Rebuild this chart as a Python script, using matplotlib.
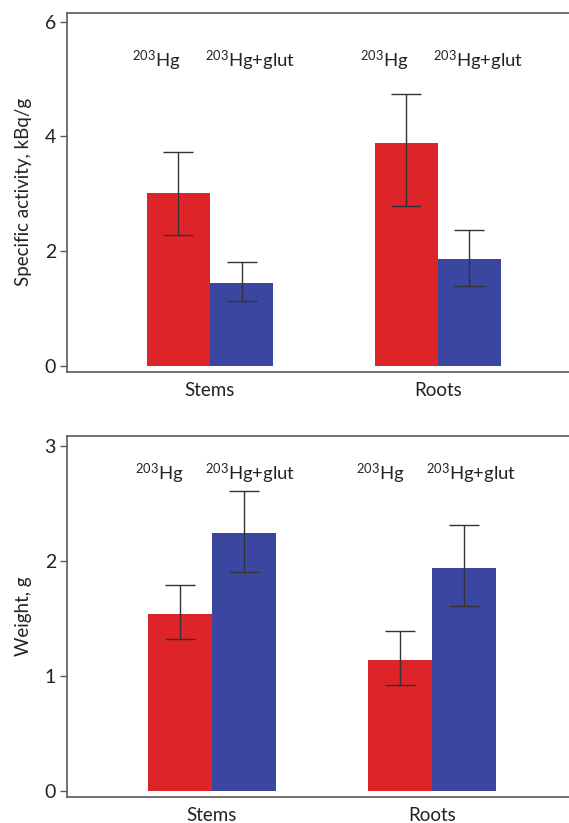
import matplotlib
matplotlib.use("Agg")
import matplotlib.pyplot as plt

plt.rcParams["font.family"] = ["Lato", "DejaVu Sans"]
plt.rcParams["mathtext.fontset"] = "custom"
plt.rcParams["mathtext.rm"] = "Lato"
plt.rcParams["mathtext.it"] = "Lato"

categories = ["Stems", "Roots"]
series_labels = [r"$\mathregular{^{203}Hg}$", r"$\mathregular{^{203}Hg{+}glut}$"]

# specific activity, kBq/g: mean, lower whisker, upper whisker
act_hg = [3.02, 3.88]
act_hg_lo = [2.29, 2.79]
act_hg_hi = [3.73, 4.73]
act_glut = [1.44, 1.87]
act_glut_lo = [1.14, 1.39]
act_glut_hi = [1.81, 2.37]

# weight, g
wt_hg = [1.54, 1.14]
wt_hg_lo = [1.32, 0.92]
wt_hg_hi = [1.79, 1.39]
wt_glut = [2.24, 1.94]
wt_glut_lo = [1.90, 1.61]
wt_glut_hi = [2.61, 2.31]

RED = "#dd2429"
BLUE = "#3b46a1"
GREY = "#5a5a5a"


def panel(ax, hg, hg_lo, hg_hi, glut, glut_lo, glut_hi, width, ylim, xlim,
          yticks, ylabel, label_y):
    x = list(range(len(categories)))
    xr = [i - width / 2 for i in x]
    xb = [i + width / 2 for i in x]
    err_r = [[m - l for m, l in zip(hg, hg_lo)], [h - m for m, h in zip(hg, hg_hi)]]
    err_b = [[m - l for m, l in zip(glut, glut_lo)], [h - m for m, h in zip(glut, glut_hi)]]
    ekw = dict(ecolor="#333333", elinewidth=1.0, capsize=11, capthick=1.0)
    ax.bar(xr, hg, width, color=RED, yerr=err_r, error_kw=ekw, zorder=2)
    ax.bar(xb, glut, width, color=BLUE, yerr=err_b, error_kw=ekw, zorder=2)

    for i in x:
        ax.text(i - 0.235, label_y, series_labels[0], ha="center", va="baseline",
                fontsize=13.3, color="#222222")
        ax.text(i + 0.175, label_y, series_labels[1], ha="center", va="baseline",
                fontsize=13.3, color="#222222")

    ax.set_xlim(*xlim)
    ax.set_ylim(*ylim)
    ax.set_yticks(yticks)
    ax.set_xticks(x)
    ax.set_xticklabels(categories, fontsize=13.5)
    ax.set_ylabel(ylabel, fontsize=13.5, labelpad=9, color="#222222")
    ax.tick_params(axis="x", length=0, pad=7, colors="#222222")
    ax.tick_params(axis="y", length=5, width=1, color=GREY, labelsize=14,
                   labelcolor="#222222", pad=3)
    for side in ["left", "top", "bottom"]:
        ax.spines[side].set_color(GREY)
        ax.spines[side].set_linewidth(1.2)
    ax.spines["right"].set_visible(False)


fig = plt.figure(figsize=(5.69, 8.23), dpi=100)
ax1 = fig.add_axes([0.1178, 0.548, 0.8822, 0.4366])
ax2 = fig.add_axes([0.1178, 0.0316, 0.8822, 0.4384])

panel(ax1, act_hg, act_hg_lo, act_hg_hi, act_glut, act_glut_lo, act_glut_hi,
      width=0.277, ylim=(-0.105, 6.155), xlim=(-0.627, 1.575),
      yticks=[0, 2, 4, 6], ylabel="Specific activity, kBq/g", label_y=5.2)
panel(ax2, wt_hg, wt_hg_lo, wt_hg_hi, wt_glut, wt_glut_lo, wt_glut_hi,
      width=0.29, ylim=(-0.055, 3.084), xlim=(-0.655, 1.62),
      yticks=[0, 1, 2, 3], ylabel="Weight, g", label_y=2.7)

fig.savefig("out.png", dpi=100)
plt.close(fig)
